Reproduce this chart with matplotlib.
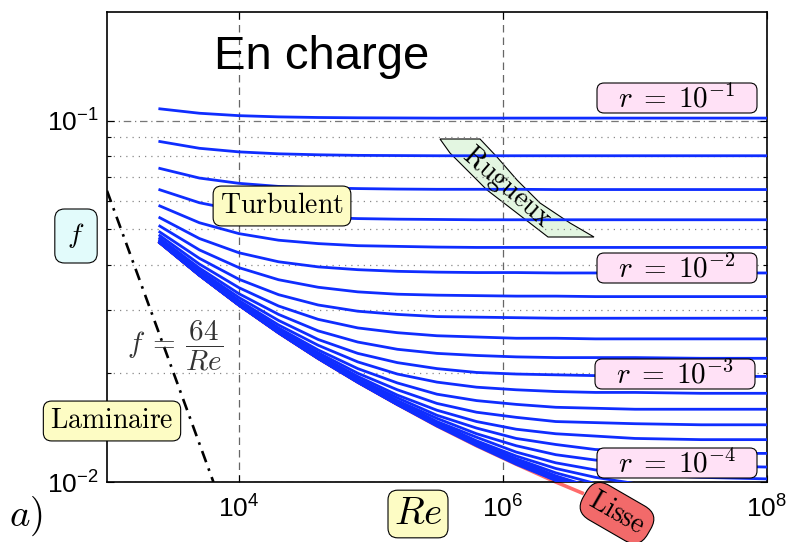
import matplotlib
matplotlib.use("Agg")
import matplotlib.pyplot as plt
from matplotlib.patches import Polygon, FancyBboxPatch
from matplotlib.ticker import FixedLocator, NullFormatter, NullLocator

plt.rcParams['font.family'] = ['Liberation Sans', 'DejaVu Sans']
plt.rcParams['mathtext.fontset'] = 'custom'
plt.rcParams['mathtext.rm'] = 'Liberation Sans'
plt.rcParams['mathtext.it'] = 'Liberation Sans:italic'

# Reynolds values where the curves were read
re_points = [2512, 5012, 1.0e4, 1.995e4, 3.981e4, 7.943e4, 1.585e5, 3.162e5,
             6.31e5, 1.259e6, 2.512e6, 5.012e6, 1.0e7, 3.162e7, 1.0e8]

# f x 1e4 for each roughness r = 10^-1, 10^-1.2, ... 10^-5.8 (one row per curve)
f_rough_x1e4 = [
    [1079, 1049, 1033, 1025, 1021, 1019, 1018, 1017, 1017, 1017, 1017, 1017, 1017, 1017, 1017],
    [876, 839, 820, 810, 805, 802, 801, 800, 800, 800, 800, 800, 800, 800, 800],
    [738, 694, 671, 658, 652, 649, 647, 646, 646, 646, 645, 645, 645, 645, 645],
    [644, 593, 564, 548, 540, 536, 534, 533, 532, 532, 532, 532, 532, 532, 532],
    [581, 522, 487, 467, 457, 451, 449, 447, 446, 446, 446, 446, 446, 446, 446],
    [539, 472, 431, 407, 394, 387, 383, 381, 380, 380, 379, 379, 379, 379, 379],
    [511, 439, 392, 363, 346, 336, 331, 329, 328, 327, 327, 326, 326, 326, 326],
    [492, 416, 364, 330, 309, 297, 291, 287, 286, 285, 284, 284, 284, 284, 284],
    [481, 401, 345, 307, 282, 267, 259, 254, 252, 250, 250, 249, 249, 249, 249],
    [473, 391, 332, 291, 262, 244, 233, 227, 224, 222, 221, 221, 221, 220, 220],
    [468, 385, 324, 280, 248, 227, 214, 206, 201, 199, 198, 197, 197, 196, 196],
    [465, 381, 318, 272, 239, 215, 199, 189, 183, 180, 178, 177, 177, 176, 176],
    [463, 378, 315, 267, 232, 206, 188, 175, 168, 164, 161, 160, 159, 159, 159],
    [462, 376, 313, 264, 228, 200, 180, 165, 156, 151, 147, 146, 145, 144, 144],
    [461, 375, 311, 262, 225, 196, 174, 158, 147, 140, 136, 134, 132, 131, 131],
    [461, 375, 310, 261, 223, 193, 171, 153, 141, 132, 127, 123, 122, 120, 120],
    [460, 374, 310, 260, 222, 192, 168, 150, 136, 126, 119, 115, 113, 111, 110],
    [460, 374, 309, 260, 221, 191, 167, 147, 133, 121, 113, 108, 105, 103, 102],
    [460, 374, 309, 260, 221, 190, 166, 146, 130, 118, 109, 103, 99, 95, 94],
    [460, 374, 309, 259, 220, 190, 165, 145, 129, 116, 106, 99, 94, 89, 88],
    [460, 374, 309, 259, 220, 189, 164, 144, 128, 115, 104, 96, 90, 84, 82],
    [460, 374, 309, 259, 220, 189, 164, 144, 127, 114, 103, 94, 87, 80, 77],
    [460, 374, 309, 259, 220, 189, 164, 144, 127, 113, 102, 92, 85, 77, 73],
    [460, 374, 309, 259, 220, 189, 164, 143, 127, 113, 101, 91, 84, 74, 69],
    [460, 374, 309, 259, 220, 189, 164, 143, 126, 112, 101, 91, 83, 73, 66],
]

# smooth pipe ("Lisse"), runs a little past the bottom of the frame
re_lisse = [2512, 5012, 1.0e4, 1.995e4, 3.981e4, 7.943e4, 1.585e5, 3.162e5,
            6.31e5, 1.259e6, 2.512e6, 3.98e6]
f_lisse = [0.0460, 0.0374, 0.0309, 0.0259, 0.0220, 0.0189, 0.0164, 0.0143,
           0.0126, 0.0112, 0.0100, 0.00932]

# laminar branch f = 64/Re
re_lam = [1000, 6400]
f_lam = [0.064, 0.010]

r_labels = ['10^{-1}', '10^{-2}', '10^{-3}', '10^{-4}']
x_ticks = [1e4, 1e6, 1e8]
x_ticklabels = [r'$\mathregular{10^{4}}$', r'$\mathregular{10^{6}}$', r'$\mathregular{10^{8}}$']
y_ticks = [0.01, 0.1]
y_ticklabels = [r'$\mathregular{10^{-2}}$', r'$\mathregular{10^{-1}}$']

W, H = 789, 542


def px(x, y):
    return (x / W, 1 - y / H)


fig = plt.figure(figsize=(W / 100, H / 100), dpi=100)
ax = fig.add_axes([107 / W, 1 - 482 / H, 660 / W, 470 / H])
ax.set_xscale('log')
ax.set_yscale('log')

for row in f_rough_x1e4:
    ax.plot(re_points, [v / 1e4 for v in row], color='#0f2dff', lw=2.0, zorder=3)
ax.plot(re_lisse, f_lisse, color='#ff6b6b', lw=2.6, zorder=2.5, clip_on=False)
ax.plot(re_lam, f_lam, color='black', lw=1.9, ls=(0, (4.5, 2.5, 1, 2.5)), zorder=3)

ax.set_xlim(1e3, 1e8)
ax.set_ylim(0.01, 0.2)

ax.xaxis.set_major_locator(FixedLocator(x_ticks))
ax.set_xticklabels(x_ticklabels)
ax.xaxis.set_minor_locator(NullLocator())
ax.yaxis.set_major_locator(FixedLocator(y_ticks))
ax.set_yticklabels(y_ticklabels)
ax.yaxis.set_minor_locator(FixedLocator([0.02, 0.03, 0.04, 0.05, 0.06, 0.07, 0.08, 0.09]))
ax.yaxis.set_minor_formatter(NullFormatter())
ax.tick_params(which='both', direction='in', top=True, right=True, width=0.8)
ax.tick_params(which='major', length=5, labelsize=19)
ax.tick_params(which='minor', length=3)
ax.tick_params(axis='x', pad=10)
ax.tick_params(axis='y', pad=6)
for s in ax.spines.values():
    s.set_linewidth(1.2)

ax.set_axisbelow(True)
ax.grid(True, which='major', axis='x', color='#666666', lw=0.9, ls=(0, (6, 4)))
ax.grid(True, which='major', axis='y', color='#777777', lw=0.9, ls=(0, (6, 3, 1, 3)))
ax.grid(True, which='minor', axis='y', color='#888888', lw=0.9, ls=(0, (1, 4)))

# Rugueux banner
left_edge = [(440, 139), (450, 153), (467, 170), (487, 190), (513, 210), (548, 237)]
right_edge = [(480, 139), (497, 157), (517, 180), (540, 203), (570, 223), (594, 237)]
outline = [px(*p) for p in left_edge + right_edge[::-1]]
ax.add_patch(Polygon(outline, closed=True, transform=fig.transFigure,
                     fc='#e3f6e1', ec='black', lw=0.8, zorder=0.3))
fig.text(*px(507, 188), r'$\mathrm{Rugueux}$', math_fontfamily='cm', fontsize=20,
         rotation=-41, ha='center', va='center', rotation_mode='anchor')

fig.text(*px(321.5, 69), 'En charge', fontsize=34, ha='center', va='baseline')


def label(x, y, s, fc, size=20, **kw):
    fig.text(*px(x, y), s, math_fontfamily='cm', fontsize=size, ha='center', va='center',
             bbox=dict(boxstyle=kw.pop('box', 'round,pad=0.25,rounding_size=0.3'),
                       fc=fc, ec='black', lw=0.8), **kw)


yellow = '#fdfcc4'
pink = '#ffe1f6'
label(282, 206, r'$\mathrm{Turbulent}$', yellow)
label(112, 421, r'$\mathrm{Laminaire}$', yellow)
label(76, 236, r'$f$', '#e2fbfb', size=20, box='round,pad=0.45,rounding_size=0.35')
label(418, 514, r'$Re$', yellow, size=28, box='round,pad=0.15,rounding_size=0.25')

# roughness tags: fixed-size pink boxes at the right edge
for (cx, cy, txt) in zip([677, 677, 675, 677], [98, 268, 374, 463], r_labels):
    x0, y0 = px(cx - 80, cy + 15)
    fig.add_artist(FancyBboxPatch((x0, y0), 160 / W, 30 / H, transform=fig.transFigure,
                                  boxstyle='round,pad=0,rounding_size=0.009',
                                  mutation_aspect=W / H, fc=pink, ec='black', lw=0.8))
    fig.text(*px(cx, cy + 1), r'$r\;=\;' + txt + '$', math_fontfamily='cm', fontsize=21,
             ha='center', va='center')

label(617, 513, r'$\mathrm{Lisse}$', '#f26a6a', size=20, rotation=-30,
      box='round,pad=0.25,rounding_size=0.6')

fig.text(*px(175, 346), r'$f\:=\:\dfrac{64}{Re}$', math_fontfamily='cm', fontsize=21,
         color='#333333', ha='center', va='center')
fig.text(*px(26, 516), r'$a)$', math_fontfamily='cm', fontsize=28, ha='center', va='center')

fig.savefig('out.png', dpi=100)
